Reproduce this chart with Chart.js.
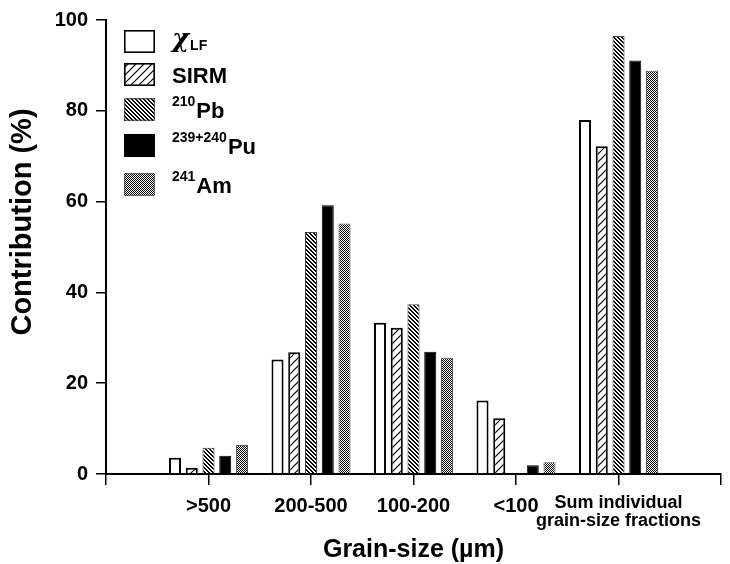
<!DOCTYPE html>
<html>
<head>
<meta charset="utf-8">
<script src="https://cdn.jsdelivr.net/npm/chart.js@4.4.1/dist/chart.umd.min.js"></script>
<style>
  html, body { margin: 0; padding: 0; background: #fff; }
  #wrap { width: 730px; height: 564px; }
</style>
</head>
<body>
<div id="wrap"><canvas id="chart" width="730" height="564"></canvas></div>
<script>
// Data (contribution in %)
const grainSizes = ['', '>500', '200-500', '100-200', '<100', ['Sum individual', 'grain-size fractions'], ''];
const chiLF = [3.6, 25.2, 33.3, 16.2, 78.0];
const sirm = [1.4, 26.8, 32.2, 12.3, 72.2];
const pb210 = [5.8, 53.3, 37.4, null, 96.5];
const pu239240 = [4.0, 59.2, 26.9, 1.9, 91.1];
const am241 = [6.4, 55.2, 25.6, 2.6, 88.8];
const yTicks = [0, 20, 40, 60, 80, 100];

// Legend text pieces (superscript / main / subscript)
const legendSup = ['', '', '210', '239+240', '241'];
const legendMain = ['χ', 'SIRM', 'Pb', 'Pu', 'Am'];
const legendSub = ['LF', '', '', '', ''];

const FONT = "'Liberation Sans', Arial, Helvetica, sans-serif";
Chart.defaults.font.family = FONT;
Chart.defaults.color = '#000';

const canvas = document.getElementById('chart');
const ctx = canvas.getContext('2d');

// empty slots at both ends of the axis
const pad = arr => [null, ...arr, null];

// small tile patterns for the hatched bars
function tile(size, draw) {
    const c = document.createElement('canvas');
    c.width = c.height = size;
    const g = c.getContext('2d');
    g.fillStyle = '#fff';
    g.fillRect(0, 0, size, size);
    g.fillStyle = '#000';
    g.strokeStyle = '#000';
    draw(g, size);
    return ctx.createPattern(c, 'repeat');
}

const sirmFill = tile(8, (g, s) => {
    g.lineWidth = 1.2;
    g.beginPath();
    g.moveTo(0, s); g.lineTo(s, 0);
    g.moveTo(-1, 1); g.lineTo(1, -1);
    g.moveTo(s - 1, s + 1); g.lineTo(s + 1, s - 1);
    g.stroke();
});
const pbFill = tile(4, g => {
    for (let i = 0; i < 4; i++) {
        g.fillRect(i, i, 1, 1);
        g.fillRect((i + 1) % 4, i, 1, 1);
    }
});
const amFill = tile(2, g => {
    g.fillRect(0, 0, 1, 1);
    g.fillRect(1, 1, 1, 1);
});

const whiteBg = {
    id: 'whiteBg',
    beforeDraw(chart) {
        const c = chart.ctx;
        c.save();
        c.fillStyle = '#fff';
        c.fillRect(0, 0, chart.width, chart.height);
        c.restore();
    }
};

// legend inside the plot, with superscripts
const legendBoxes = {
    id: 'legendBoxes',
    afterDraw(chart) {
        const c = chart.ctx;
        const rowTops = [30, 63, 98, 134, 173];
        const x0 = chart.chartArea.left + 18;
        chart.data.datasets.forEach((ds, i) => {
            const top = rowTops[i];
            c.save();
            c.fillStyle = ds.backgroundColor;
            c.fillRect(x0, top, 31, 23);
            c.lineWidth = i < 2 ? 1.6 : 1;
            c.strokeStyle = ds.borderColor;
            c.strokeRect(x0 + 0.8, top + 0.8, 29.4, 21.4);

            let tx = x0 + 48;
            const base = top + 20;
            c.fillStyle = '#000';
            c.textBaseline = 'alphabetic';
            c.textAlign = 'left';
            if (legendSup[i]) {
                c.font = 'bold 14px ' + FONT;
                c.fillText(legendSup[i], tx, base - 12);
                tx += c.measureText(legendSup[i]).width + 1;
            }
            c.font = i === 0 ? "italic bold 26px 'DejaVu Serif', serif" : 'bold 22px ' + FONT;
            c.fillText(legendMain[i], tx, i === 0 ? base - 3 : base);
            tx += c.measureText(legendMain[i]).width + 1;
            if (legendSub[i]) {
                c.font = 'bold 14px ' + FONT;
                c.fillText(legendSub[i], tx, base);
            }
            c.restore();
        });
    }
};

// y title drawn by hand so it sits where the original has it
const yTitle = {
    id: 'yTitle',
    afterDraw(chart) {
        const c = chart.ctx;
        c.save();
        c.translate(23, 222);
        c.rotate(-Math.PI / 2);
        c.font = 'bold 29px ' + FONT;
        c.fillStyle = '#000';
        c.textAlign = 'center';
        c.textBaseline = 'middle';
        c.fillText('Contribution (%)', 0, 0);
        c.restore();
    }
};

new Chart(ctx, {
    type: 'bar',
    data: {
        labels: grainSizes,
        datasets: [
            { label: 'χLF', data: pad(chiLF), backgroundColor: '#fff', borderColor: '#000', borderWidth: 2 },
            { label: 'SIRM', data: pad(sirm), backgroundColor: sirmFill, borderColor: '#000', borderWidth: 2 },
            { label: '210Pb', data: pad(pb210), backgroundColor: pbFill, borderColor: '#444', borderWidth: 1 },
            { label: '239+240Pu', data: pad(pu239240), backgroundColor: '#000', borderColor: '#000', borderWidth: 1 },
            { label: '241Am', data: pad(am241), backgroundColor: amFill, borderColor: '#555', borderWidth: 1 }
        ]
    },
    options: {
        responsive: false,
        devicePixelRatio: 1,
        animation: false,
        categoryPercentage: 0.817,
        barPercentage: 0.72,
        layout: { padding: { top: 18, right: 9, bottom: 0, left: 0 } },
        scales: {
            x: {
                offset: false,
                afterFit: s => { s.height = 90; },
                grid: { offset: false, drawOnChartArea: false, tickLength: 11, color: '#000', lineWidth: 1.5 },
                border: { color: '#000', width: 2 },
                ticks: {
                    autoSkip: false,
                    maxRotation: 0,
                    padding: 9,
                    color: '#000',
                    font: c => c.index === 5
                        ? { family: FONT, size: 18, weight: 'bold', lineHeight: 1.0 }
                        : { family: FONT, size: 20, weight: 'bold' }
                },
                title: {
                    display: true,
                    text: 'Grain-size (µm)',
                    color: '#000',
                    font: { family: FONT, size: 25, weight: 'bold', lineHeight: 1.1 },
                    padding: { top: 0, bottom: 0 }
                }
            },
            y: {
                min: 0,
                max: 100,
                afterFit: s => { s.width = 106; },
                afterBuildTicks: s => { s.ticks = yTicks.map(v => ({ value: v })); },
                grid: { drawOnChartArea: false, tickLength: 10, color: '#000', lineWidth: 1.5 },
                border: { color: '#000', width: 2 },
                ticks: { padding: 8, color: '#000', font: { family: FONT, size: 20, weight: 'bold' } }
            }
        },
        plugins: {
            legend: { display: false },
            tooltip: { enabled: false }
        }
    },
    plugins: [whiteBg, legendBoxes, yTitle]
});
</script>
</body>
</html>
